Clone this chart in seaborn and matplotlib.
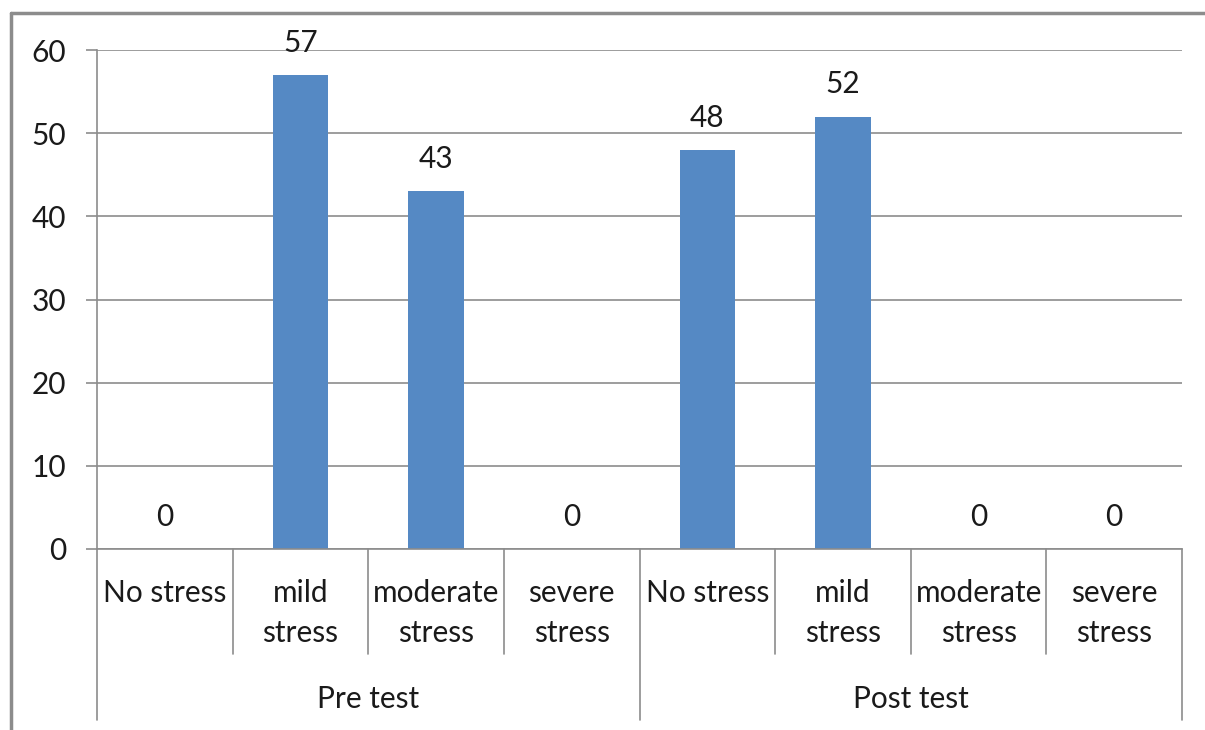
import matplotlib
matplotlib.use("Agg")
import matplotlib.pyplot as plt
from matplotlib.lines import Line2D
import matplotlib.transforms as mtransforms
import seaborn as sns
import pandas as pd

# Stress levels measured before and after the intervention
groups = ["Pre test", "Post test"]
levels = ["No stress", "mild\nstress", "moderate\nstress", "severe\nstress"]
pre_values = [0, 57, 43, 0]
post_values = [48, 52, 0, 0]
y_ticks = [0, 10, 20, 30, 40, 50, 60]

sns.set_theme(style="white")
plt.rcParams["font.family"] = ["Lato", "DejaVu Sans"]

rows = []
for g, vals in zip(groups, [pre_values, post_values]):
    for lvl, v in zip(levels, vals):
        rows.append({"group": g, "level": lvl, "slot": f"{g}|{lvl}", "value": v})
df = pd.DataFrame(rows)
order = list(df["slot"])

bar_color = "#5589C4"
line_color = "#8C8C8C"
text_color = "#1A1A1A"
fs = 21.5

fig = plt.figure(figsize=(12.05, 7.30), dpi=100)
ax = fig.add_axes([97 / 1205, 1 - 549 / 730, (1182 - 97) / 1205, (549 - 50) / 730])

sns.barplot(data=df, x="slot", y="value", order=order, color=bar_color,
            width=0.41, saturation=1, ax=ax, edgecolor="none")

ax.set_xlim(-0.5, len(order) - 0.5)
ax.set_ylim(0, 60)
ax.set_yticks(y_ticks)
ax.set_yticklabels([str(t) for t in y_ticks], fontsize=fs, color=text_color)
ax.set_xticks([])
ax.set_xlabel("")
ax.set_ylabel("")

# horizontal gridlines that extend past the axis as outward ticks
ax.yaxis.grid(True, color=line_color, linewidth=1.2)
ax.set_axisbelow(True)
ax.tick_params(axis="y", direction="out", length=8, width=1.2, color=line_color,
               pad=14, left=True)
for side in ["top", "right"]:
    ax.spines[side].set_visible(False)
ax.spines["left"].set_color(line_color)
ax.spines["left"].set_linewidth(1.2)
ax.spines["bottom"].set_color(line_color)
ax.spines["bottom"].set_linewidth(1.2)

# value labels above each bar
for i, v in enumerate(df["value"]):
    ax.annotate(str(v), xy=(i, v), xytext=(0, 13), textcoords="offset points",
                ha="center", va="bottom", fontsize=fs, color=text_color)

# two-level category axis drawn below the plot area
trans = mtransforms.blended_transform_factory(ax.transData, ax.transAxes)
px = 1.0 / (549 - 50)  # one pixel in axes-y units
n_per_group = len(levels)
for k in range(len(order) + 1):
    xpos = k - 0.5
    if k % n_per_group == 0:
        y_end = -(720 - 549) * px
    else:
        y_end = -(654 - 549) * px
    ax.add_line(Line2D([xpos, xpos], [0, y_end], transform=trans, color=line_color,
                       linewidth=1.2, clip_on=False))

for i, lvl in enumerate(df["level"]):
    ax.text(i, -(579 - 549) * px, lvl, transform=trans, ha="center", va="top",
            fontsize=fs, color=text_color, linespacing=1.5)

for gi, g in enumerate(groups):
    center = gi * n_per_group + (n_per_group - 1) / 2
    ax.text(center, -(699 - 549) * px, g, transform=trans, ha="center",
            va="center", fontsize=fs, color=text_color)

# frame around the chart area
fig.add_artist(Line2D([11 / 1205, 11 / 1205], [0, 1 - 12.5 / 730],
                      transform=fig.transFigure, color=line_color, linewidth=2.5))
fig.add_artist(Line2D([11 / 1205, 1], [1 - 12.5 / 730, 1 - 12.5 / 730],
                      transform=fig.transFigure, color=line_color, linewidth=2.5))

fig.savefig("out.png", dpi=100, facecolor="white")
